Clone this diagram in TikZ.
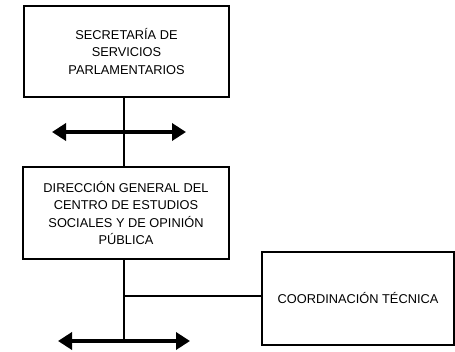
\documentclass[tikz,border=0pt]{standalone}
\usepackage{fontspec}
\setmainfont{Liberation Sans}
\usetikzlibrary{arrows.meta}
\begin{document}
\begin{tikzpicture}[x=1pt,y=-1pt,
  box/.style={draw,line width=1.2pt,inner sep=0pt,align=center,font=\fontsize{12.8}{17.2}\selectfont},
  conn/.style={line width=1.2pt},
  dbl/.style={line width=3.5pt,{Triangle[length=14pt,width=17pt]}-{Triangle[length=14pt,width=17pt]}}]
\useasboundingbox (0,0) rectangle (455,351);
\node[box,minimum width=205pt,minimum height=91pt] (sec) at (126.5,51.5) {SECRETARÍA DE\\SERVICIOS\\PARLAMENTARIOS};
\node[box,minimum width=206pt,minimum height=92pt] (dir) at (126,213) {DIRECCIÓN GENERAL DEL\\CENTRO DE ESTUDIOS\\SOCIALES Y DE OPINIÓN\\PÚBLICA};
\node[box,minimum width=192pt,minimum height=93pt] (coord) at (358,298.5) {COORDINACIÓN TÉCNICA};
\coordinate (a1l) at (52,132);
\coordinate (a1r) at (186,132);
\coordinate (a2l) at (58,341);
\coordinate (a2r) at (190,341);
\coordinate (bot) at (124,341);
\coordinate (j) at (124,296);
\draw[conn] (sec.south -| 124,0) -- (dir.north -| 124,0);
\draw[conn] (dir.south -| 124,0) -- (bot);
\draw[conn] (j) -- (j -| coord.west);
\draw[dbl] (a1l) -- (a1r);
\draw[dbl] (a2l) -- (a2r);
\end{tikzpicture}
\end{document}
